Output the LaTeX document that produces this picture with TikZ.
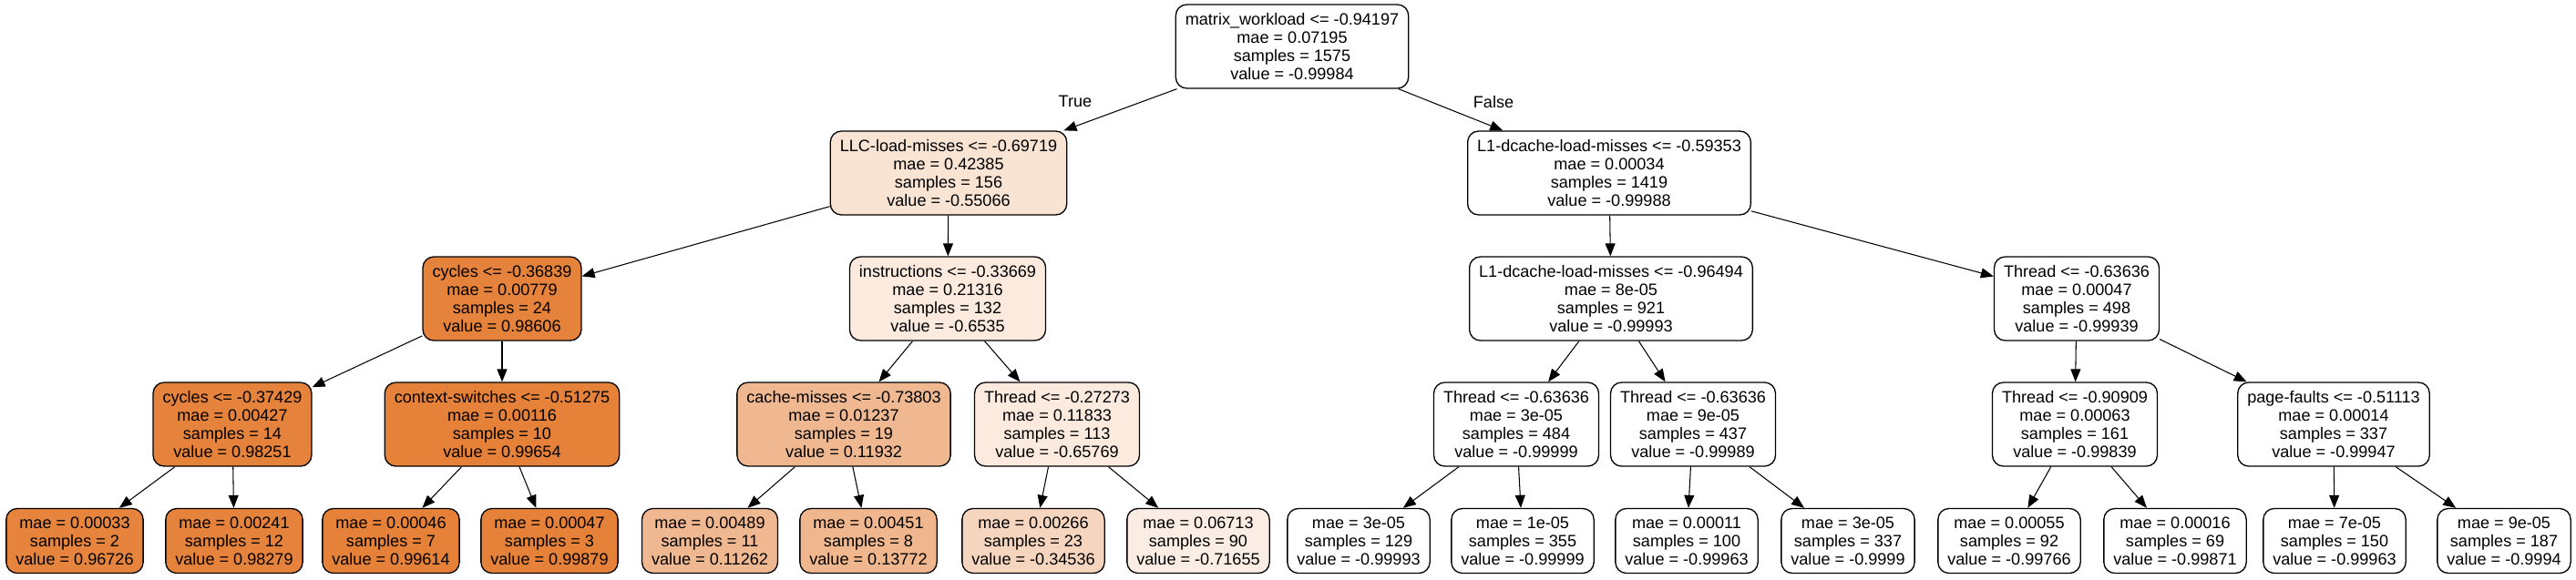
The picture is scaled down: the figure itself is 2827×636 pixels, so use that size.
\documentclass[tikz,border=0pt]{standalone}
\usepackage{fontspec}
\setmainfont{Liberation Sans}
\usepackage{xcolor}
\usepackage{tikz}
\usetikzlibrary{arrows.meta, positioning}
\definecolor{nodeorange}{RGB}{229,129,57}

\begin{document}
\begin{tikzpicture}[x=0.02cm, y=-0.02cm]
    \tikzstyle{split} = [rectangle, draw, line width=0.75pt, align=center,
                         rounded corners=0.24cm, inner xsep=0.21cm,
                         minimum height=1.84cm,
                         font=\fontsize{10.3}{11.4}\selectfont]
    \tikzstyle{leaf} = [split, minimum height=1.42cm]
    \tikzstyle{branch} = [line width=0.6pt, -{Triangle[length=0.28cm, width=0.22cm]}]
    \tikzstyle{answer} = [font=\fontsize{10.3}{11.4}\selectfont]

    \useasboundingbox (0,0) rectangle (2827,636);

    % root and first split
    \node [split, fill=white] (root) at (1418,51) {
        matrix\_workload <= -0.94197\\
        mae = 0.07195\\
        samples = 1575\\
        value = -0.99984
    };
    \node [split, fill=nodeorange!22!white] (llc) at (1041,190) {
        LLC-load-misses <= -0.69719\\
        mae = 0.42385\\
        samples = 156\\
        value = -0.55066
    };
    \node [split, fill=white] (dcacheA) at (1766,190) {
        L1-dcache-load-misses <= -0.59353\\
        mae = 0.00034\\
        samples = 1419\\
        value = -0.99988
    };

    % second level
    \node [split, fill=nodeorange!99!white] (cyclesA) at (551,328) {
        cycles <= -0.36839\\
        mae = 0.00779\\
        samples = 24\\
        value = 0.98606
    };
    \node [split, fill=nodeorange!17!white] (instr) at (1040,328) {
        instructions <= -0.33669\\
        mae = 0.21316\\
        samples = 132\\
        value = -0.6535
    };
    \node [split, fill=white] (dcacheB) at (1768,328) {
        L1-dcache-load-misses <= -0.96494\\
        mae = 8e-05\\
        samples = 921\\
        value = -0.99993
    };
    \node [split, fill=white] (threadA) at (2279,328) {
        Thread <= -0.63636\\
        mae = 0.00047\\
        samples = 498\\
        value = -0.99939
    };

    % third level
    \node [split, fill=nodeorange!99!white] (cyclesB) at (255,466) {
        cycles <= -0.37429\\
        mae = 0.00427\\
        samples = 14\\
        value = 0.98251
    };
    \node [split, fill=nodeorange] (ctx) at (551,466) {
        context-switches <= -0.51275\\
        mae = 0.00116\\
        samples = 10\\
        value = 0.99654
    };
    \node [split, fill=nodeorange!56!white] (cmiss) at (926,466) {
        cache-misses <= -0.73803\\
        mae = 0.01237\\
        samples = 19\\
        value = 0.11932
    };
    \node [split, fill=nodeorange!17!white] (threadB) at (1160,466) {
        Thread <= -0.27273\\
        mae = 0.11833\\
        samples = 113\\
        value = -0.65769
    };
    \node [split, fill=white] (threadC) at (1664,466) {
        Thread <= -0.63636\\
        mae = 3e-05\\
        samples = 484\\
        value = -0.99999
    };
    \node [split, fill=white] (threadD) at (1858,466) {
        Thread <= -0.63636\\
        mae = 9e-05\\
        samples = 437\\
        value = -0.99989
    };
    \node [split, fill=white] (threadE) at (2277,466) {
        Thread <= -0.90909\\
        mae = 0.00063\\
        samples = 161\\
        value = -0.99839
    };
    \node [split, fill=white] (pgf) at (2561,466) {
        page-faults <= -0.51113\\
        mae = 0.00014\\
        samples = 337\\
        value = -0.99947
    };

    % leaves
    \node [leaf, fill=nodeorange!98!white] (leafA) at (82,594) {mae = 0.00033\\ samples = 2\\ value = 0.96726};
    \node [leaf, fill=nodeorange!99!white] (leafB) at (257,594) {mae = 0.00241\\ samples = 12\\ value = 0.98279};
    \node [leaf, fill=nodeorange] (leafC) at (429,594) {mae = 0.00046\\ samples = 7\\ value = 0.99614};
    \node [leaf, fill=nodeorange] (leafD) at (603,594) {mae = 0.00047\\ samples = 3\\ value = 0.99879};
    \node [leaf, fill=nodeorange!56!white] (leafE) at (779,594) {mae = 0.00489\\ samples = 11\\ value = 0.11262};
    \node [leaf, fill=nodeorange!57!white] (leafF) at (953,594) {mae = 0.00451\\ samples = 8\\ value = 0.13772};
    \node [leaf, fill=nodeorange!33!white] (leafG) at (1134,594) {mae = 0.00266\\ samples = 23\\ value = -0.34536};
    \node [leaf, fill=nodeorange!14!white] (leafH) at (1315,594) {mae = 0.06713\\ samples = 90\\ value = -0.71655};
    \node [leaf, fill=white] (leafI) at (1491,594) {mae = 3e-05\\ samples = 129\\ value = -0.99993};
    \node [leaf, fill=white] (leafJ) at (1671,594) {mae = 1e-05\\ samples = 355\\ value = -0.99999};
    \node [leaf, fill=white] (leafK) at (1851,594) {mae = 0.00011\\ samples = 100\\ value = -0.99963};
    \node [leaf, fill=white] (leafL) at (2028,594) {mae = 3e-05\\ samples = 337\\ value = -0.9999};
    \node [leaf, fill=white] (leafM) at (2205,594) {mae = 0.00055\\ samples = 92\\ value = -0.99766};
    \node [leaf, fill=white] (leafN) at (2387,594) {mae = 0.00016\\ samples = 69\\ value = -0.99871};
    \node [leaf, fill=white] (leafO) at (2562,594) {mae = 7e-05\\ samples = 150\\ value = -0.99963};
    \node [leaf, fill=white] (leafP) at (2748,594) {mae = 9e-05\\ samples = 187\\ value = -0.9994};

    % branches
    \draw [branch] (root) -- (llc);
    \draw [branch] (root) -- (dcacheA);
    \node [answer] (truelbl) at (1180,111) {True};
    \node [answer] (falselbl) at (1639,112) {False};

    \draw [branch] (llc) -- (cyclesA);
    \draw [branch] (llc) -- (instr);
    \draw [branch] (dcacheA) -- (dcacheB);
    \draw [branch] (dcacheA) -- (threadA);

    \draw [branch] (cyclesA) -- (cyclesB);
    \draw [branch] (cyclesA) -- (ctx);
    \draw [branch] (instr) -- (cmiss);
    \draw [branch] (instr) -- (threadB);
    \draw [branch] (dcacheB) -- (threadC);
    \draw [branch] (dcacheB) -- (threadD);
    \draw [branch] (threadA) -- (threadE);
    \draw [branch] (threadA) -- (pgf);

    \draw [branch] (cyclesB) -- (leafA);
    \draw [branch] (cyclesB) -- (leafB);
    \draw [branch] (ctx) -- (leafC);
    \draw [branch] (ctx) -- (leafD);
    \draw [branch] (cmiss) -- (leafE);
    \draw [branch] (cmiss) -- (leafF);
    \draw [branch] (threadB) -- (leafG);
    \draw [branch] (threadB) -- (leafH);
    \draw [branch] (threadC) -- (leafI);
    \draw [branch] (threadC) -- (leafJ);
    \draw [branch] (threadD) -- (leafK);
    \draw [branch] (threadD) -- (leafL);
    \draw [branch] (threadE) -- (leafM);
    \draw [branch] (threadE) -- (leafN);
    \draw [branch] (pgf) -- (leafO);
    \draw [branch] (pgf) -- (leafP);
\end{tikzpicture}
\end{document}
